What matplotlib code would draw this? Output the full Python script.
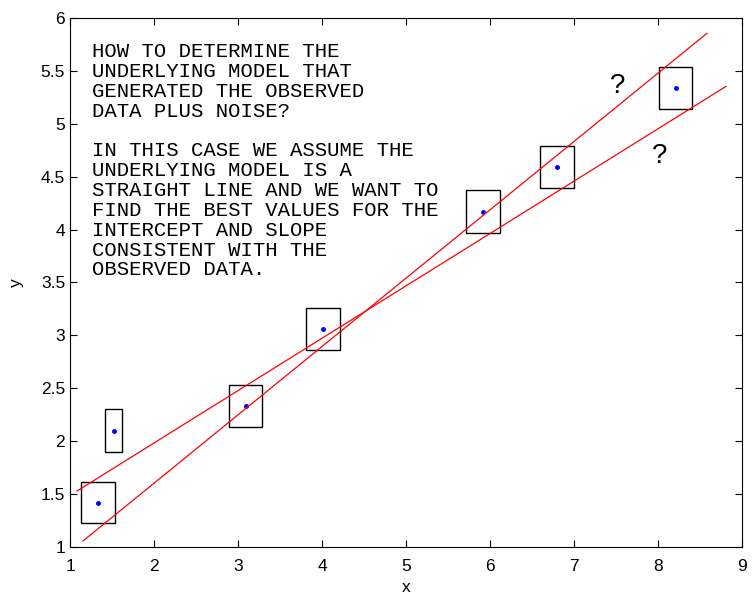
import matplotlib.pyplot as plt
from matplotlib.patches import Rectangle

# observed data with their uncertainty boxes
x_obs = [1.33, 1.52, 3.09, 4.01, 5.92, 6.80, 8.21]
y_obs = [1.42, 2.10, 2.33, 3.06, 4.17, 4.59, 5.34]
x_err = [0.20, 0.10, 0.20, 0.20, 0.20, 0.20, 0.20]
y_err = [0.19, 0.20, 0.20, 0.20, 0.20, 0.20, 0.20]

# two candidate straight lines: slope, intercept, x-range
slopes = [0.646, 0.495]
intercepts = [0.311, 0.993]
x_starts = [1.155, 1.083]
x_ends = [8.583, 8.81]

# question marks
q_x = [7.52, 8.02]
q_y = [5.36, 4.70]

note = ("HOW TO DETERMINE THE\n"
        "UNDERLYING MODEL THAT\n"
        "GENERATED THE OBSERVED\n"
        "DATA PLUS NOISE?\n"
        "\n"
        "IN THIS CASE WE ASSUME THE\n"
        "UNDERLYING MODEL IS A\n"
        "STRAIGHT LINE AND WE WANT TO\n"
        "FIND THE BEST VALUES FOR THE\n"
        "INTERCEPT AND SLOPE\n"
        "CONSISTENT WITH THE\n"
        "OBSERVED DATA.")

plt.rcParams['font.family'] = ['Liberation Sans', 'DejaVu Sans']

fig = plt.figure(figsize=(7.53, 5.98), dpi=100)
ax = fig.add_axes([0.093, 0.0853, 0.8924, 0.8846])

for xs, ys, ex, ey in zip(x_obs, y_obs, x_err, y_err):
    ax.add_patch(Rectangle((xs - ex, ys - ey), 2 * ex, 2 * ey,
                           fill=False, edgecolor='black', linewidth=1))
ax.plot(x_obs, y_obs, '.', color='blue', markersize=5)

for m, b, x0, x1 in zip(slopes, intercepts, x_starts, x_ends):
    ax.plot([x0, x1], [m * x0 + b, m * x1 + b], color='red', linewidth=0.9)

for qx, qy in zip(q_x, q_y):
    ax.text(qx, qy, '?', fontsize=20, ha='center', va='center')

ax.text(1.26, 5.77, note, family='Liberation Mono', fontsize=14.9,
        va='top', ha='left', linespacing=1.055)

ax.set_xlim(1, 9)
ax.set_ylim(1, 6)
ax.set_xticks(range(1, 10))
ax.set_yticks([1, 1.5, 2, 2.5, 3, 3.5, 4, 4.5, 5, 5.5, 6])
ax.set_yticklabels(['1', '1.5', '2', '2.5', '3', '3.5', '4', '4.5', '5', '5.5', '6'])
ax.tick_params(direction='in', top=True, right=True, labelsize=12.5, length=5)
ax.tick_params(axis='x', pad=9)
ax.set_xlabel('x', fontsize=12.5, labelpad=4)
ax.set_ylabel('y', fontsize=12.5, labelpad=12)

fig.savefig('out.png', dpi=100)
